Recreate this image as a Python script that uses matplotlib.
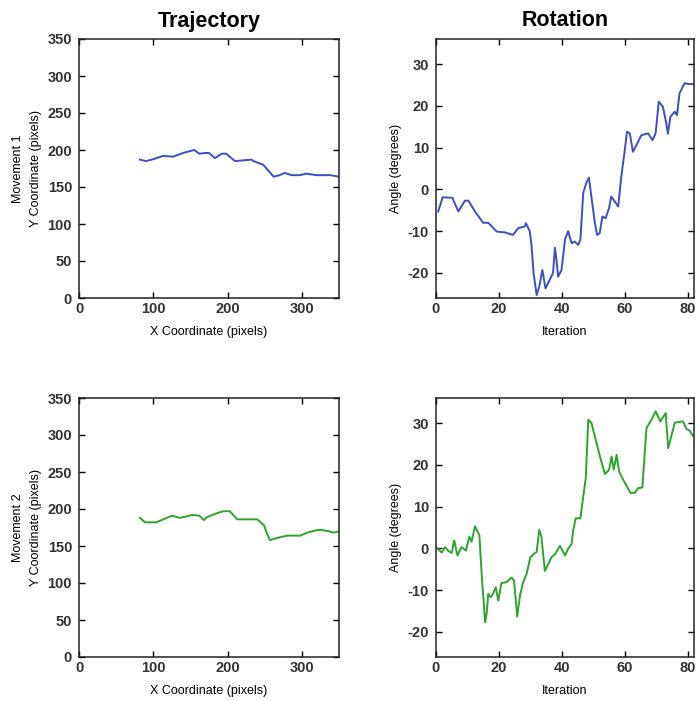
import matplotlib.pyplot as plt

plt.rcParams['font.family'] = ['Liberation Sans', 'DejaVu Sans']
plt.rcParams['axes.unicode_minus'] = False

# Movement 1 trajectory (x, y in pixels)
traj1_x = [82, 90, 98, 113, 127, 140, 155, 162, 170, 175, 183, 192, 198, 210, 232, 235, 248, 262, 270, 277, 286, 297, 306, 320, 338, 350]
traj1_y = [187, 185, 187, 192, 191, 196, 200, 195, 196, 196, 189, 195, 195, 185, 187, 185, 180, 164, 166, 169, 166, 166, 168, 166, 166, 164]

# Movement 2 trajectory
traj2_x = [82, 89, 104, 118, 125, 136, 145, 152, 162, 168, 172, 185, 194, 203, 213, 217, 240, 249, 253, 257, 267, 280, 298, 307, 318, 325, 336, 343, 350]
traj2_y = [188, 182, 182, 188, 191, 188, 190, 192, 191, 185, 189, 194, 197, 197, 186, 186, 186, 178, 167, 158, 161, 164, 164, 168, 171, 172, 170, 168, 170]

# Movement 1 rotation
rot1_it = [0.7, 2.1, 5.2, 7.1, 9.2, 10.3, 12.4, 15, 16.6, 19.3, 21.9, 24.5, 26.1, 28.2, 28.6, 29.8, 30.4, 31, 32,
           32.8, 33.8, 34.8, 36.1, 37.2, 37.8, 38.3, 38.8, 39.9, 41, 42, 43.1, 44.1, 45.2, 45.9, 46.8, 47.8, 48.6,
           49.4, 50.5, 51.2, 52, 52.9, 53.9, 55, 55.7, 56.8, 57.9, 58.9, 60, 60.7, 61.6, 62.6, 63.7, 65.3, 67.4,
           68.8, 69.8, 70.8, 72.1, 73.2, 73.7, 74.5, 75.9, 76.6, 77.4, 79, 80.6, 82]
rot1_ang = [-5.3, -1.9, -2, -5.3, -2.7, -2.7, -5.3, -8, -8, -10.1, -10.3, -10.9, -9.3, -8.9, -8.1, -10, -13.7, -20, -25.3,
            -23.3, -19.3, -23.7, -21.7, -20, -14, -16.9, -20.9, -19.3, -12, -10, -12.9, -12.5, -13.3, -12, -0.8, 1.6, 2.8,
            -1.8, -8.1, -10.9, -10.5, -6.5, -6.9, -4.5, -1.7, -2.9, -4.1, 3.1, 9.4, 13.8, 13.4, 9.0, 10.6, 13, 13.4,
            11.8, 13.4, 21, 19.8, 15.8, 13.3, 17.4, 18.6, 17.8, 23, 25.4, 25.2, 25.2]

# Movement 2 rotation
rot2_it = [0.2, 1.3, 1.8, 2.9, 3.9, 5, 5.8, 6.8, 8.1, 9.5, 10.6, 11.3, 12.4, 13.8, 14.5, 15.6, 16.1, 16.6, 17.4, 18.2,
           19, 19.8, 20.8, 22.4, 24, 24.8, 25.8, 26.7, 27.7, 28.8, 30, 31.1, 32, 32.8, 33.5, 34.6, 35.7, 36.7, 37.8,
           39.4, 41, 42, 43.1, 43.6, 44.4, 45.9, 46.8, 47.6, 48.4, 49.4, 50.5, 52.1, 53.7, 55, 55.8, 56.5, 57.4, 58.2,
           59.5, 61.8, 63.2, 64.2, 65.6, 66.3, 66.9, 68.5, 69.8, 71.3, 73, 73.8, 74.5, 75.9, 78.5, 79.6, 80.6, 81.7]
rot2_ang = [0.1, -0.6, -1.0, 0.3, -0.6, -1.1, 1.9, -1.7, 0.3, -0.5, 2.8, 1.6, 5.3, 3.1, -6.1, -17.7, -15.7, -10.9, -11.7, -10.7,
            -9.3, -12.5, -8.3, -8.1, -7.0, -7.7, -16.3, -11.3, -8.1, -6.1, -2.1, -1.3, -0.9, 4.5, 2.8, -5.4, -3.7, -2.1, -1.4,
            0.6, -1.7, -0.1, 1.1, 4.3, 7.2, 7.2, 12.4, 16.8, 30.8, 30, 26.8, 22, 17.8, 18.8, 22, 18.9, 22.4, 18.4,
            16.4, 13.3, 13.3, 14.4, 14.6, 22.4, 28.8, 30.8, 32.8, 30.4, 32.4, 24, 26, 30.1, 30.4, 28.6, 28.2, 26.9]

blue = '#3c4fc4'
green = '#2ea32e'

fig = plt.figure(figsize=(6.96, 7.01), dpi=100)
axL1 = fig.add_axes([79 / 696, 1 - 298 / 701, 260 / 696, 259 / 701])
axR1 = fig.add_axes([436 / 696, 1 - 298 / 701, 258 / 696, 259 / 701])
axL2 = fig.add_axes([79 / 696, 1 - 657 / 701, 260 / 696, 259 / 701])
axR2 = fig.add_axes([436 / 696, 1 - 657 / 701, 258 / 696, 259 / 701])


def style(ax):
    ax.tick_params(direction='in', length=4, top=True, right=True, width=1,
                   labelsize=10.5, labelcolor='#333333')
    ax.tick_params(axis='y', pad=5)
    ax.tick_params(axis='x', pad=3)
    for lab in ax.get_xticklabels() + ax.get_yticklabels():
        lab.set_fontweight('bold')
    for s in ax.spines.values():
        s.set_linewidth(1.1)
        s.set_color('#222222')


for ax, xs, ys, c, name in [(axL1, traj1_x, traj1_y, blue, 'Movement 1'),
                            (axL2, traj2_x, traj2_y, green, 'Movement 2')]:
    ax.plot(xs, ys, color=c, lw=1.4)
    ax.set_xlim(0, 350)
    ax.set_ylim(0, 350)
    ax.set_xticks([0, 100, 200, 300])
    ax.set_yticks(range(0, 351, 50))
    ax.set_xlabel('X Coordinate (pixels)', fontsize=9, labelpad=7)
    ax.set_ylabel(name + '\nY Coordinate (pixels)', fontsize=9, labelpad=4, linespacing=1.6)
    style(ax)

for ax, xs, ys, c in [(axR1, rot1_it, rot1_ang, blue), (axR2, rot2_it, rot2_ang, green)]:
    ax.plot(xs, ys, color=c, lw=1.4)
    ax.set_xlim(0, 82)
    ax.set_ylim(-26, 36)
    ax.set_xticks([0, 20, 40, 60, 80])
    ax.set_yticks([-20, -10, 0, 10, 20, 30])
    ax.set_xlabel('Iteration', fontsize=9, labelpad=7)
    ax.set_ylabel('Angle (degrees)', fontsize=9, labelpad=4)
    style(ax)

axL1.set_title('Trajectory', fontsize=15.5, fontweight='bold', pad=9)
axR1.set_title('Rotation', fontsize=15.5, fontweight='bold', pad=9)

fig.savefig('out.png', dpi=100)
